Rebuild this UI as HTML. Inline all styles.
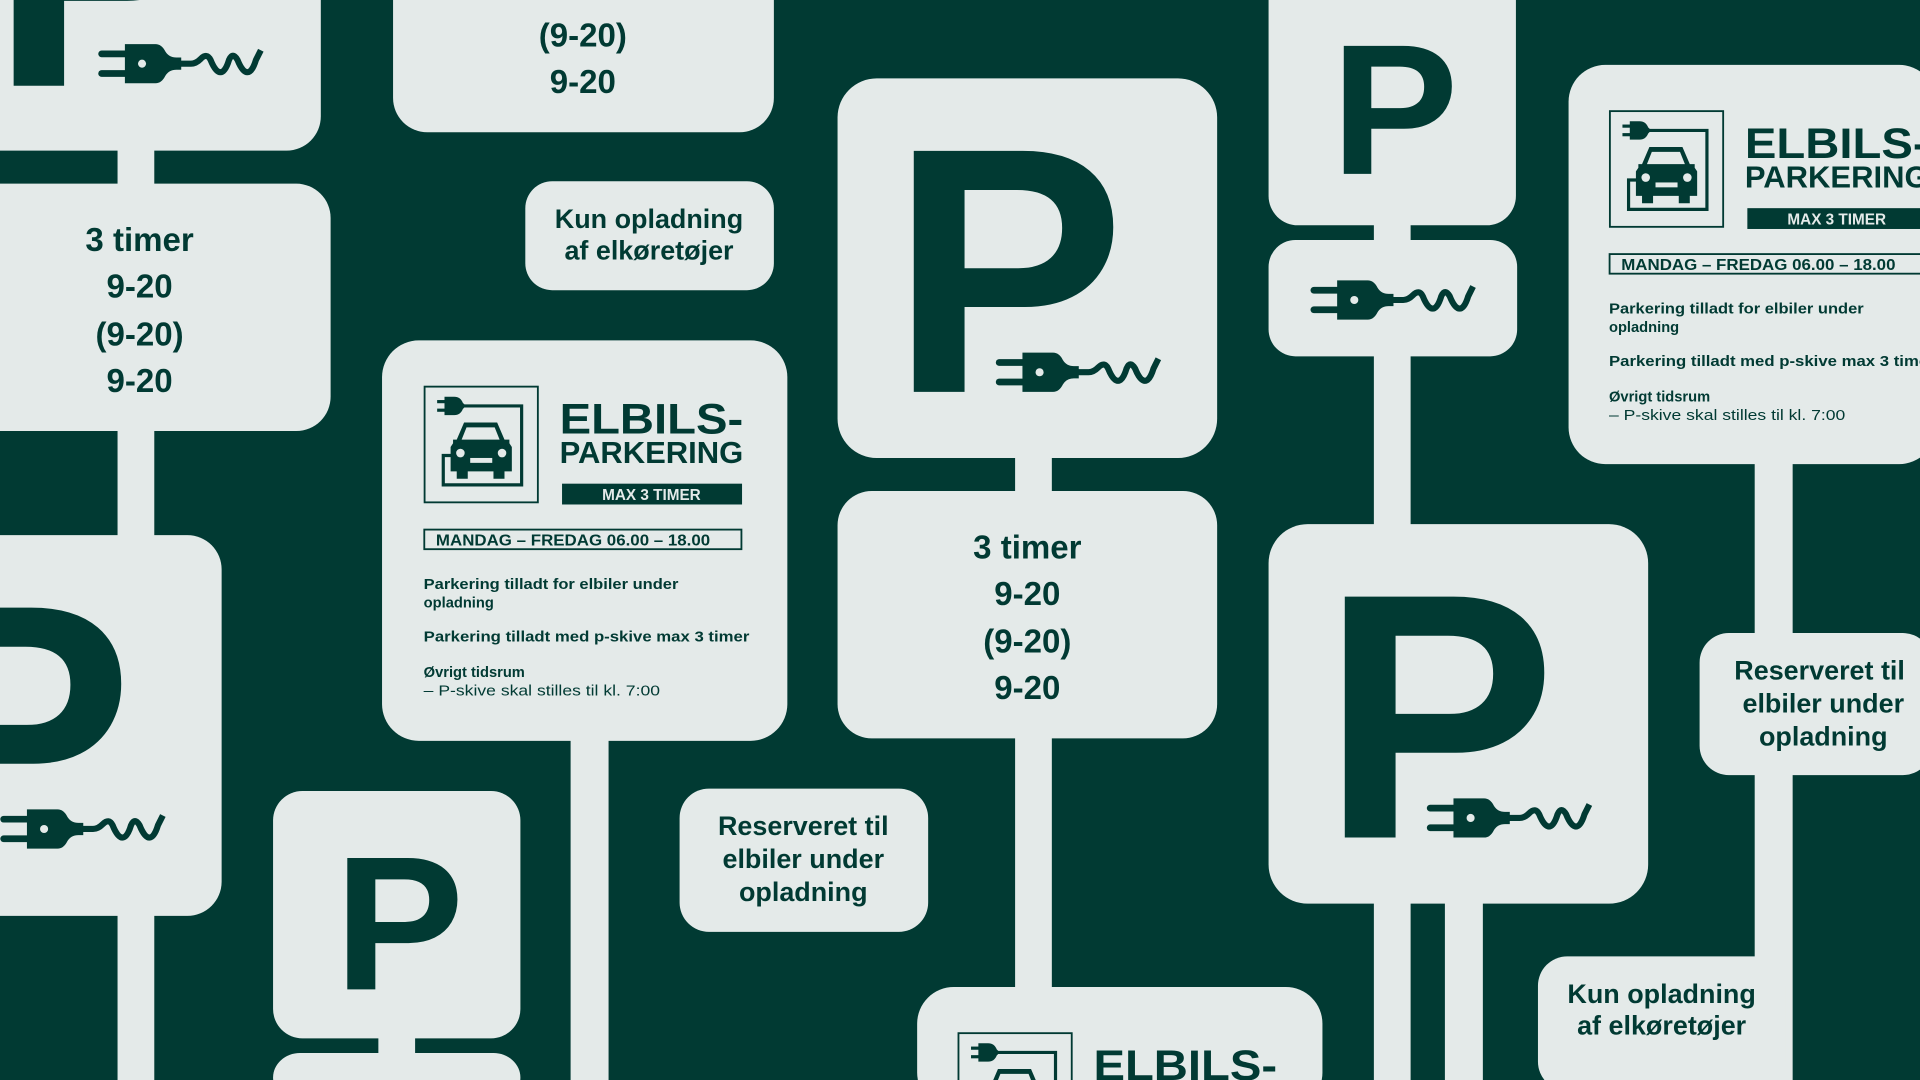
<!DOCTYPE html>
<html><head><meta charset="utf-8"><style>
html,body{margin:0;padding:0;background:#013a33;overflow:hidden;width:1920px;height:1080px}
svg{display:block;position:absolute;left:0;top:0}
text{font-family:"Liberation Sans",sans-serif;font-weight:bold;fill:#013a33}
</style></head><body>
<svg width="1920" height="1080" viewBox="0 0 1568 882" preserveAspectRatio="none" xmlns="http://www.w3.org/2000/svg" overflow="hidden">
<defs>
<g id="plug">
 <line x1="3" y1="9" x2="22" y2="9" stroke="#013a33" stroke-width="5.5" stroke-linecap="round"/>
 <line x1="3" y1="25" x2="22" y2="25" stroke="#013a33" stroke-width="5.5" stroke-linecap="round"/>
 <path d="M22 1 H47 Q52 1 55 7 Q58 12 64 12 H68 V22 H64 Q58 22 55 27 Q52 33 47 33 H22 Z" fill="#013a33"/>
 <circle cx="36" cy="17" r="3.3" fill="#e4eae9"/>
 <path d="M66 17 H76 Q80 17 84 13 Q89 8 92 14 Q96 24 100 24 Q104 24 107 14 Q110 7 114 14 Q118 24 122 24 Q126 24 129 14 L133 6" fill="none" stroke="#013a33" stroke-width="5"/>
</g>
<g id="icon">
 <rect x="0.75" y="0.75" width="92.5" height="94.5" fill="none" stroke="#013a33" stroke-width="1.5"/>
 <line x1="11" y1="13" x2="18" y2="13" stroke="#013a33" stroke-width="2.6"/>
 <line x1="11" y1="20" x2="18" y2="20" stroke="#013a33" stroke-width="2.6"/>
 <path d="M17 9 H25 Q30 9 32 14 L34 16 V17 L32 19 Q30 24 25 24 H17 Z" fill="#013a33"/>
 <polyline points="33,16.5 80,16.5 80,81 16,81 16,57 24,57" fill="none" stroke="#013a33" stroke-width="2.6"/>
 <path d="M33 30 H60 L66 44 H70 V47 L72 50 V70 H66 V76 H57 V70 H36 V76 H27 V70 H22 V50 L24 47 V44 H27 Z" fill="#013a33"/>
 <path d="M35 34 H58 L62 44 H31 Z" fill="#e4eae9"/>
 <circle cx="30" cy="55" r="3.5" fill="#e4eae9"/>
 <circle cx="64" cy="55" r="3.5" fill="#e4eae9"/>
 <rect x="38" y="59" width="18" height="4" fill="#e4eae9"/>
</g>
</defs>
<g fill="#e4eae9">
 <rect x="96" y="100" width="30" height="782"/>
 <rect x="466" y="580" width="31" height="302"/>
 <rect x="309" y="830" width="30" height="52"/>
 <rect x="829" y="350" width="30" height="480"/>
 <rect x="1122" y="160" width="30" height="722"/>
 <rect x="1180" y="700" width="31" height="182"/>
 <rect x="1433" y="350" width="31" height="532"/>
 <rect x="-40" y="-40" width="302" height="163" rx="28"/>
 <rect x="-40" y="150" width="310" height="202" rx="28"/>
 <rect x="-40" y="437" width="221" height="311" rx="28"/>
 <rect x="321" y="-40" width="311" height="148" rx="28"/>
 <rect x="429" y="148" width="203" height="89" rx="22"/>
 <rect x="312" y="278" width="331" height="327" rx="30"/>
 <rect x="555" y="644" width="203" height="117" rx="24"/>
 <rect x="223" y="646" width="202" height="202" rx="24"/>
 <rect x="223" y="860" width="202" height="40" rx="22"/>
 <rect x="684" y="64" width="310" height="310" rx="32"/>
 <rect x="684" y="401" width="310" height="202" rx="28"/>
 <rect x="749" y="806" width="331" height="100" rx="30"/>
 <rect x="1036" y="-40" width="202" height="224" rx="24"/>
 <rect x="1036" y="196" width="203" height="95" rx="22"/>
 <rect x="1036" y="428" width="310" height="310" rx="32"/>
 <rect x="1281" y="53" width="300" height="326" rx="30"/>
 <rect x="1388" y="517" width="190" height="116" rx="24"/>
 <rect x="1256" y="781" width="202" height="110" rx="24"/>
</g>

<text x="-8" y="70" font-size="286">P</text>
<text x="-82" y="693" font-size="286">P</text>
<text x="727" y="320" font-size="286" textLength="192" lengthAdjust="spacingAndGlyphs">P</text>
<text x="1079" y="684" font-size="286" textLength="192" lengthAdjust="spacingAndGlyphs">P</text>
<text x="273" y="808" font-size="156" textLength="106" lengthAdjust="spacingAndGlyphs">P</text>
<text x="1087" y="142" font-size="152" textLength="104" lengthAdjust="spacingAndGlyphs">P</text>

<use href="#plug" x="80" y="35"/>
<use href="#plug" x="0" y="660"/>
<use href="#plug" x="813" y="287"/>
<use href="#plug" x="1070" y="228"/>
<use href="#plug" x="1165" y="651"/>

<g font-size="27" text-anchor="middle">
 <text x="476" y="38">(9-20)</text>
 <text x="476" y="76">9-20</text>
 <text x="114" y="205">3 timer</text>
 <text x="114" y="243">9-20</text>
 <text x="114" y="282">(9-20)</text>
 <text x="114" y="320">9-20</text>
 <text x="839" y="456">3 timer</text>
 <text x="839" y="494">9-20</text>
 <text x="839" y="533">(9-20)</text>
 <text x="839" y="571">9-20</text>
</g>
<g font-size="22" text-anchor="middle">
 <text x="530" y="186">Kun opladning</text>
 <text x="530" y="212">af elkøretøjer</text>
 <text x="1357" y="819">Kun opladning</text>
 <text x="1357" y="845">af elkøretøjer</text>
 <text x="656" y="682">Reserveret til</text>
 <text x="656" y="709">elbiler under</text>
 <text x="656" y="736">opladning</text>
 <text x="1486" y="555">Reserveret til</text>
 <text x="1489" y="582">elbiler under</text>
 <text x="1489" y="609">opladning</text>
</g>

<g>
 <use href="#icon" x="346" y="315"/>
 <text x="457" y="354" font-size="35" textLength="150" lengthAdjust="spacingAndGlyphs">ELBILS-</text>
 <text x="457" y="378" font-size="25" textLength="150" lengthAdjust="spacingAndGlyphs">PARKERING</text>
 <rect x="459" y="395" width="147" height="17" fill="#013a33"/>
 <text x="532" y="408.5" font-size="12.5" text-anchor="middle" style="fill:#e4eae9">MAX 3 TIMER</text>
 <rect x="346.5" y="432.5" width="259" height="16" fill="none" stroke="#013a33" stroke-width="1.5"/>
 <text x="356" y="445.5" font-size="12.5" textLength="224" lengthAdjust="spacingAndGlyphs">MANDAG – FREDAG 06.00 – 18.00</text>
 <text x="346" y="481" font-size="12" textLength="208" lengthAdjust="spacingAndGlyphs">Parkering tilladt for elbiler under</text>
 <text x="346" y="496" font-size="12">opladning</text>
 <text x="346" y="524" font-size="12" textLength="266" lengthAdjust="spacingAndGlyphs">Parkering tilladt med p-skive max 3 timer</text>
 <text x="346" y="553" font-size="12">Øvrigt tidsrum</text>
 <text x="346" y="568" font-size="12" style="font-weight:normal" textLength="193" lengthAdjust="spacingAndGlyphs">– P-skive skal stilles til kl. 7:00</text>
</g>
<g transform="translate(968,-225)">
 <use href="#icon" x="346" y="315"/>
 <text x="457" y="354" font-size="35" textLength="150" lengthAdjust="spacingAndGlyphs">ELBILS-</text>
 <text x="457" y="378" font-size="25" textLength="150" lengthAdjust="spacingAndGlyphs">PARKERING</text>
 <rect x="459" y="395" width="147" height="17" fill="#013a33"/>
 <text x="532" y="408.5" font-size="12.5" text-anchor="middle" style="fill:#e4eae9">MAX 3 TIMER</text>
 <rect x="346.5" y="432.5" width="259" height="16" fill="none" stroke="#013a33" stroke-width="1.5"/>
 <text x="356" y="445.5" font-size="12.5" textLength="224" lengthAdjust="spacingAndGlyphs">MANDAG – FREDAG 06.00 – 18.00</text>
 <text x="346" y="481" font-size="12" textLength="208" lengthAdjust="spacingAndGlyphs">Parkering tilladt for elbiler under</text>
 <text x="346" y="496" font-size="12">opladning</text>
 <text x="346" y="524" font-size="12" textLength="266" lengthAdjust="spacingAndGlyphs">Parkering tilladt med p-skive max 3 timer</text>
 <text x="346" y="553" font-size="12">Øvrigt tidsrum</text>
 <text x="346" y="568" font-size="12" style="font-weight:normal" textLength="193" lengthAdjust="spacingAndGlyphs">– P-skive skal stilles til kl. 7:00</text>
</g>
<g transform="translate(436,528)">
 <use href="#icon" x="346" y="315"/>
 <text x="457" y="354" font-size="35" textLength="150" lengthAdjust="spacingAndGlyphs">ELBILS-</text>
</g>
</svg>
</body></html>
